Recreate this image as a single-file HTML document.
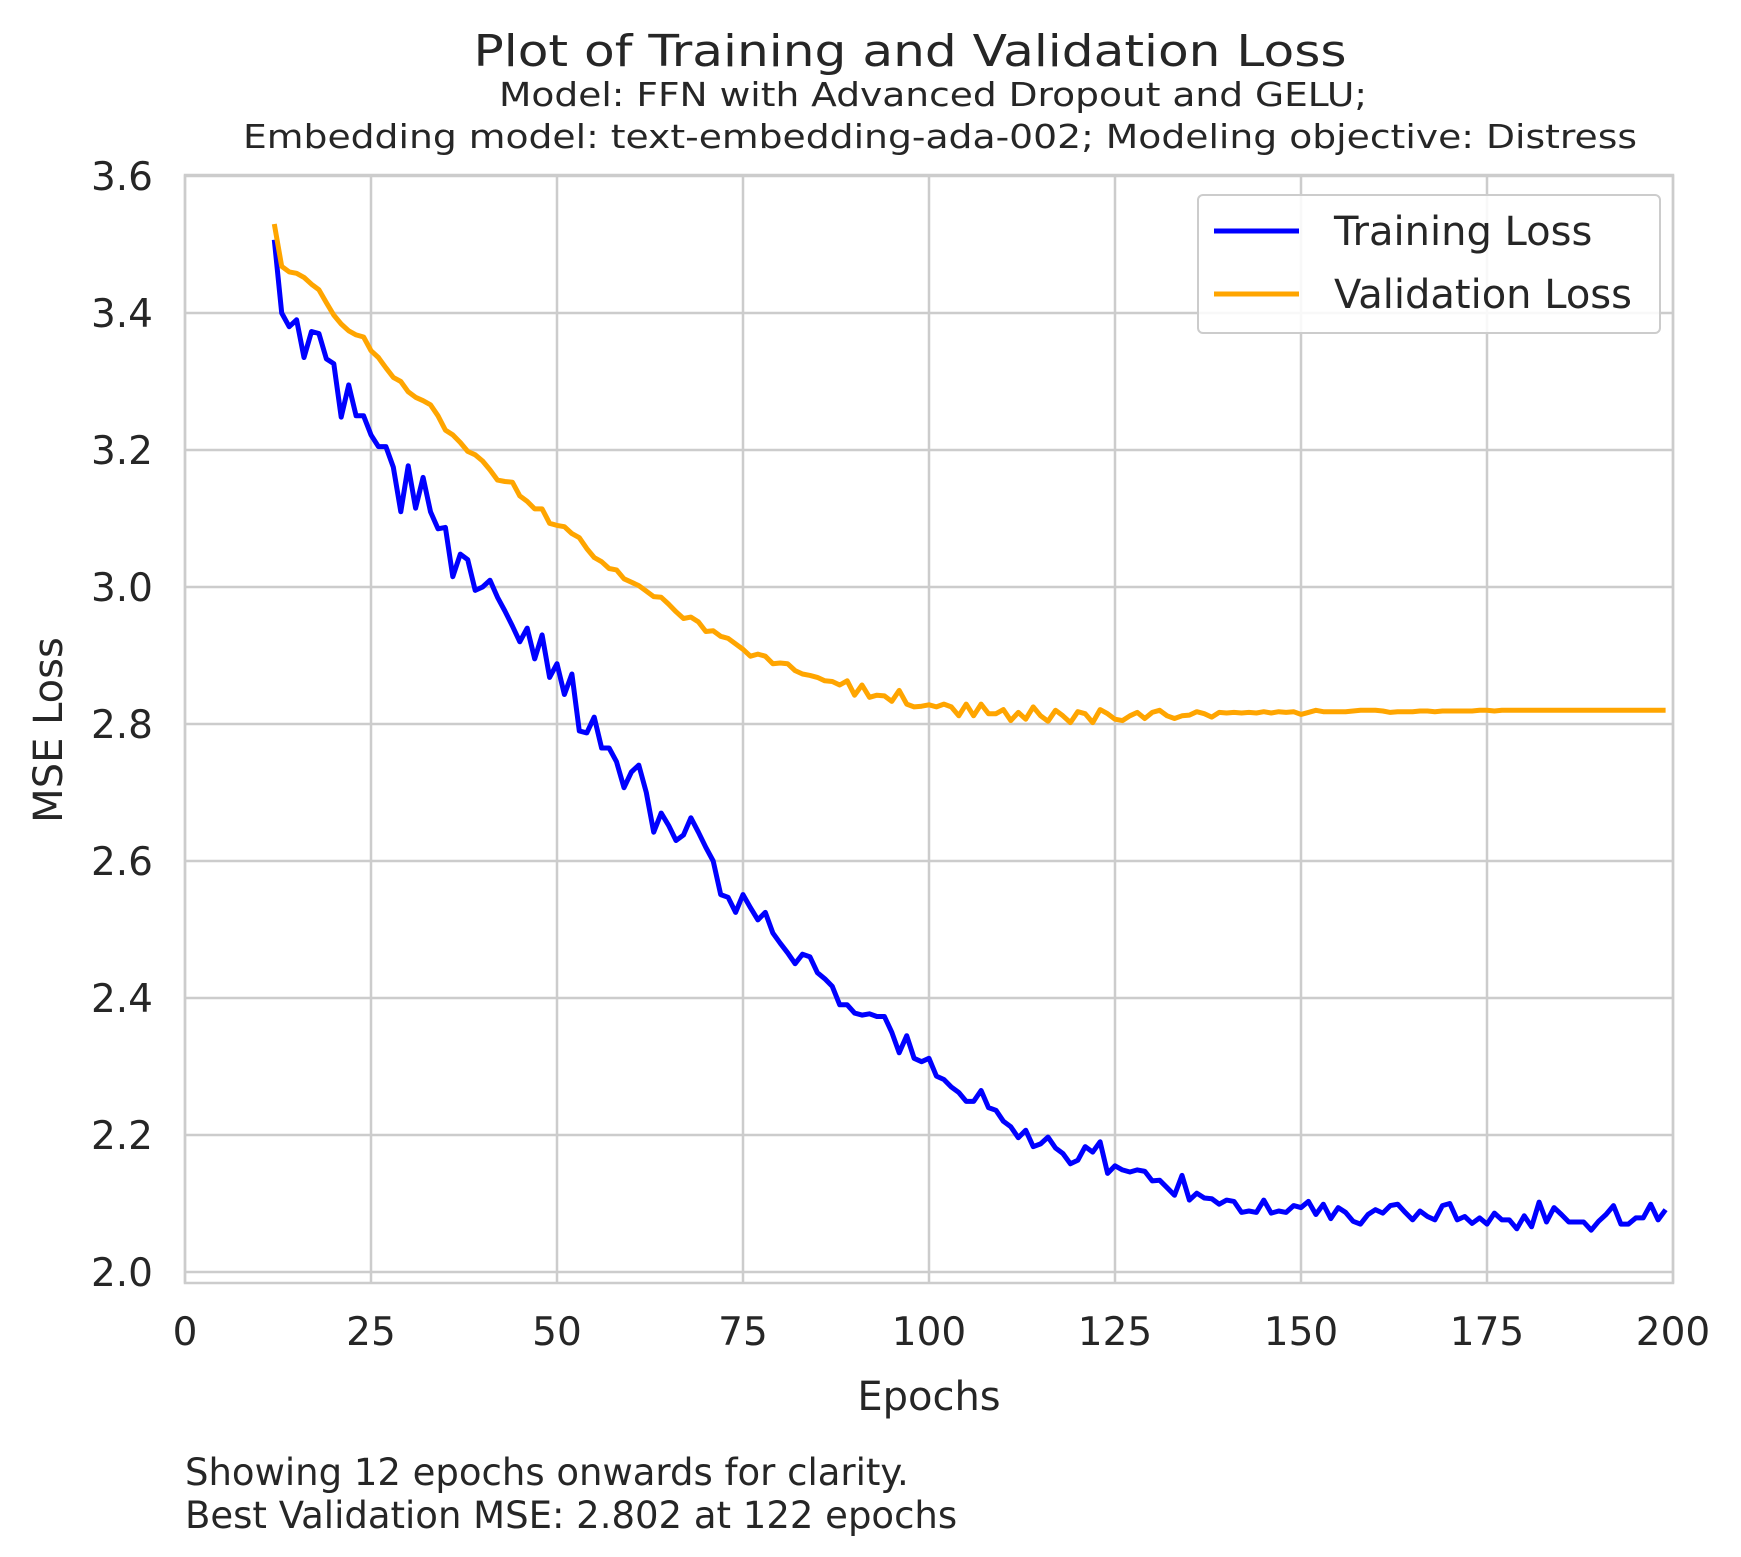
<!DOCTYPE html>
<html><head><meta charset="utf-8"><style>
html,body{margin:0;padding:0;background:#fff;}
svg{display:block;font-family:"DejaVu Sans","Liberation Sans",sans-serif;}
</style></head><body>
<svg id="chart" width="1741" height="1557" viewBox="0 0 1741 1557" xmlns="http://www.w3.org/2000/svg">
<rect width="1741" height="1557" fill="#fff"/>
<g id="grid"></g>
<g id="ticks" fill="#262626" font-size="39"></g>
<g id="series"></g>
<rect x="185" y="175" width="1488" height="1108" fill="none" stroke="#cccccc" stroke-width="2.5"/>
<text x="910" y="66" text-anchor="middle" font-size="44" fill="#262626" textLength="873" lengthAdjust="spacingAndGlyphs">Plot of Training and Validation Loss</text>
<text x="933" y="106" text-anchor="middle" font-size="33" fill="#262626" textLength="868" lengthAdjust="spacingAndGlyphs">Model: FFN with Advanced Dropout and GELU;</text>
<text x="940" y="148" text-anchor="middle" font-size="33" fill="#262626" textLength="1394" lengthAdjust="spacingAndGlyphs">Embedding model: text-embedding-ada-002; Modeling objective: Distress</text>
<text x="929" y="1410" text-anchor="middle" font-size="40" fill="#262626">Epochs</text>
<text transform="translate(62,730) rotate(-90)" text-anchor="middle" font-size="40" fill="#262626">MSE Loss</text>
<text x="185" y="1485" font-size="37" fill="#262626">Showing 12 epochs onwards for clarity.</text>
<text x="185" y="1528" font-size="37" fill="#262626">Best Validation MSE: 2.802 at 122 epochs</text>
<g>
<rect x="1198" y="195" width="462" height="138" rx="5" fill="#fff" fill-opacity="0.85" stroke="#cccccc" stroke-width="2"/>
<line x1="1214" y1="231" x2="1299" y2="231" stroke="#0000ff" stroke-width="5"/>
<text x="1334" y="245" font-size="40" fill="#262626">Training Loss</text>
<line x1="1214" y1="294" x2="1299" y2="294" stroke="#ffa500" stroke-width="5"/>
<text x="1334" y="308" font-size="40" fill="#262626">Validation Loss</text>
</g>
</svg>
<script>
const epochStart = 12;
const trainLoss = [3.507,3.40,3.38,3.39,3.335,3.373,3.37,3.333,3.326,3.248,3.295,3.25,3.25,3.222,3.205,3.205,3.175,3.11,3.177,3.115,3.16,3.11,3.085,3.087,3.015,3.048,3.04,2.995,3.0,3.01,2.985,2.965,2.943,2.92,2.94,2.895,2.93,2.868,2.888,2.843,2.873,2.79,2.787,2.81,2.765,2.765,2.745,2.707,2.73,2.74,2.70,2.642,2.67,2.652,2.63,2.638,2.663,2.642,2.62,2.60,2.551,2.547,2.525,2.551,2.532,2.514,2.525,2.495,2.48,2.466,2.45,2.464,2.46,2.437,2.428,2.417,2.39,2.39,2.378,2.375,2.377,2.373,2.373,2.35,2.32,2.345,2.312,2.307,2.312,2.286,2.281,2.27,2.262,2.249,2.249,2.265,2.24,2.236,2.22,2.212,2.196,2.207,2.183,2.187,2.197,2.181,2.173,2.158,2.163,2.183,2.175,2.19,2.144,2.155,2.149,2.146,2.149,2.147,2.133,2.134,2.123,2.112,2.141,2.105,2.115,2.108,2.107,2.099,2.105,2.103,2.087,2.089,2.087,2.105,2.086,2.089,2.087,2.097,2.094,2.103,2.084,2.099,2.078,2.094,2.087,2.074,2.07,2.084,2.091,2.086,2.097,2.099,2.087,2.076,2.089,2.081,2.076,2.097,2.1,2.076,2.081,2.071,2.079,2.07,2.086,2.076,2.076,2.063,2.082,2.066,2.102,2.073,2.094,2.084,2.073,2.073,2.073,2.061,2.074,2.084,2.097,2.07,2.07,2.079,2.079,2.099,2.076,2.091];
const valLoss = [3.53,3.468,3.46,3.458,3.452,3.442,3.434,3.415,3.397,3.384,3.374,3.368,3.365,3.345,3.335,3.32,3.306,3.30,3.285,3.277,3.272,3.266,3.25,3.229,3.222,3.211,3.198,3.193,3.184,3.171,3.156,3.154,3.153,3.133,3.125,3.114,3.114,3.093,3.09,3.088,3.078,3.072,3.056,3.043,3.037,3.027,3.025,3.012,3.007,3.002,2.994,2.986,2.985,2.975,2.964,2.954,2.956,2.949,2.935,2.936,2.928,2.925,2.917,2.909,2.899,2.902,2.899,2.888,2.889,2.888,2.878,2.873,2.871,2.868,2.863,2.862,2.857,2.863,2.842,2.857,2.839,2.842,2.841,2.833,2.849,2.829,2.825,2.826,2.828,2.825,2.829,2.825,2.812,2.829,2.812,2.829,2.815,2.815,2.821,2.805,2.817,2.807,2.825,2.812,2.804,2.82,2.812,2.802,2.818,2.815,2.802,2.821,2.815,2.807,2.805,2.812,2.817,2.808,2.817,2.82,2.812,2.808,2.812,2.813,2.818,2.815,2.81,2.817,2.816,2.817,2.816,2.817,2.816,2.818,2.816,2.818,2.817,2.818,2.814,2.817,2.82,2.818,2.818,2.818,2.818,2.819,2.82,2.82,2.82,2.819,2.817,2.818,2.818,2.818,2.819,2.819,2.818,2.819,2.819,2.819,2.819,2.819,2.82,2.82,2.819,2.82,2.82,2.82,2.82,2.82,2.82,2.82,2.82,2.82,2.82,2.82,2.82,2.82,2.82,2.82,2.82,2.82,2.82,2.82,2.82,2.82,2.82,2.82];
const xTicks = [0,25,50,75,100,125,150,175,200];
const yTicks = [2.0,2.2,2.4,2.6,2.8,3.0,3.2,3.4,3.6];

const NS = "http://www.w3.org/2000/svg";
const X0 = 185, X1 = 1673, XMIN = 0, XMAX = 200;
const Y2 = 1272, PER = 137 / 0.2;
function xs(v){ return X0 + (v - XMIN) / (XMAX - XMIN) * (X1 - X0); }
function ys(v){ return Y2 - (v - 2.0) * PER; }

const grid = document.getElementById('grid');
const ticks = document.getElementById('ticks');
xTicks.forEach(t => {
  const l = document.createElementNS(NS,'line');
  l.setAttribute('x1', xs(t)); l.setAttribute('x2', xs(t));
  l.setAttribute('y1', 175); l.setAttribute('y2', 1283);
  l.setAttribute('stroke', '#cccccc'); l.setAttribute('stroke-width', '2.5');
  
  
  grid.appendChild(l);
  const tx = document.createElementNS(NS,'text');
  tx.setAttribute('x', xs(t)); tx.setAttribute('y', 1345);
  tx.setAttribute('text-anchor', 'middle');
  tx.textContent = String(t);
  
  
  ticks.appendChild(tx);
});
yTicks.forEach(t => {
  const l = document.createElementNS(NS,'line');
  l.setAttribute('x1', 185); l.setAttribute('x2', 1673);
  l.setAttribute('y1', ys(t)); l.setAttribute('y2', ys(t));
  l.setAttribute('stroke', '#cccccc'); l.setAttribute('stroke-width', '2.5');
  
  
  grid.appendChild(l);
  const tx = document.createElementNS(NS,'text');
  tx.setAttribute('x', 153); tx.setAttribute('y', ys(t) + 14);
  tx.setAttribute('text-anchor', 'end');
  tx.textContent = t.toFixed(1);
  
  
  ticks.appendChild(tx);
});

const series = document.getElementById('series');
function drawLine(vals, color, name){
  const pts = vals.map((v,i) => xs(epochStart + i).toFixed(1) + ',' + ys(v).toFixed(1)).join(' ');
  const p = document.createElementNS(NS,'polyline');
  p.setAttribute('points', pts);
  p.setAttribute('fill', 'none');
  p.setAttribute('stroke', color);
  p.setAttribute('stroke-width', '5');
  p.setAttribute('stroke-linejoin', 'round');
  
  
  series.appendChild(p);
}
drawLine(trainLoss, '#0000ff', 'training-loss-line');
drawLine(valLoss, '#ffa500', 'validation-loss-line');
</script>
</body></html>
